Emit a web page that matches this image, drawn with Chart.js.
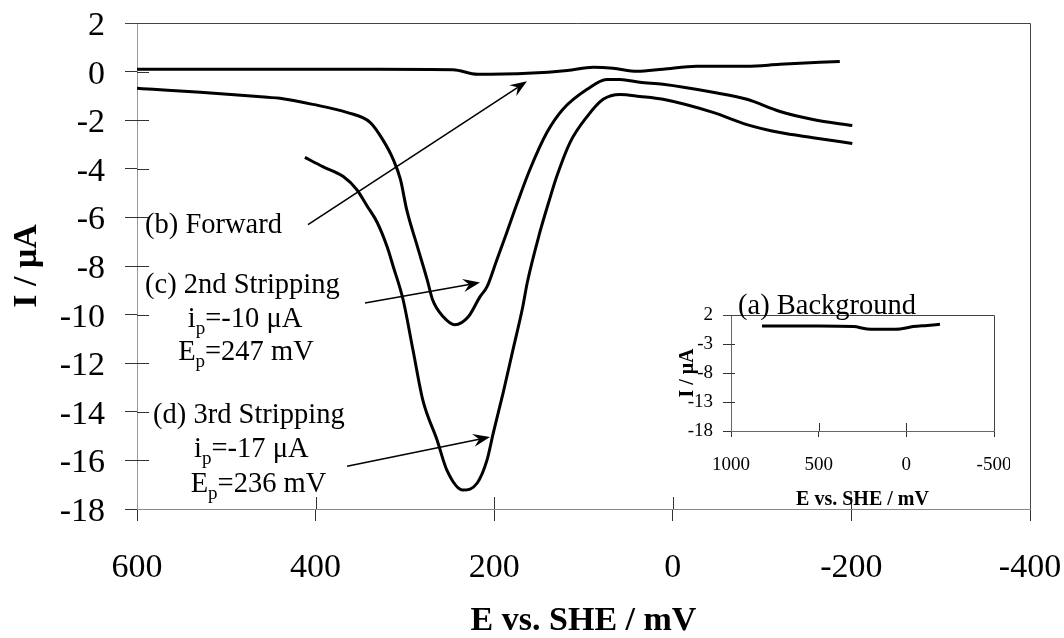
<!DOCTYPE html>
<html><head><meta charset="utf-8">
<script src="https://cdn.jsdelivr.net/npm/chart.js@4.4.1/dist/chart.umd.min.js"></script>
<style>
html,body{margin:0;padding:0;background:#fff;}
#wrap{position:relative;width:1064px;height:638px;overflow:hidden;}
#main{position:absolute;left:0;top:0;}
#inset{position:absolute;left:670px;top:290px;}
</style></head><body>
<div id="wrap"><canvas id="main" width="1064" height="638"></canvas><canvas id="inset" width="340" height="220"></canvas></div>
<script>
// ---- tick labels ----
const xTicksMain = [600, 400, 200, 0, -200, -400];
const yTicksMain = [2, 0, -2, -4, -6, -8, -10, -12, -14, -16, -18];
const xTicksInset = [1000, 500, 0, -500];
const yTicksInset = [2, -3, -8, -13, -18];

// ---- (b) forward scan ----
const forwardE = [600, 500, 417, 330, 246, 219, 190, 163, 118, 89, 67, 40, 11, -27, -83, -120, -187];
const forwardI = [0.10, 0.10, 0.10, 0.10, 0.08, -0.11, -0.10, -0.07, 0.05, 0.18, 0.14, 0.01, 0.10, 0.22, 0.22, 0.30, 0.42];

// ---- (c) 2nd stripping ----
const strip2E = [600, 582, 529, 454, 440, 403, 365, 339, 325, 313, 305, 298, 286, 275, 269, 257, 244, 229, 216, 208, 197, 186, 174, 160, 141, 123, 96, 74, 59, 37, 11, -45, -83, -120, -157, -201];
const strip2I = [-0.69, -0.73, -0.85, -1.06, -1.10, -1.35, -1.68, -2.09, -2.79, -3.62, -4.44, -5.68, -7.20, -8.57, -9.39, -10.09, -10.42, -10.09, -9.27, -8.85, -7.74, -6.63, -5.39, -4.03, -2.51, -1.55, -0.73, -0.32, -0.32, -0.44, -0.52, -0.85, -1.14, -1.64, -1.97, -2.22];

// ---- (d) 3rd stripping ----
const strip3E = [412, 392, 369, 354, 342, 331, 320, 313, 302, 291, 280, 264, 253, 235, 219, 208, 201, 190, 179, 168, 163, 149, 138, 130, 115, 96, 78, 59, 37, 11, -45, -83, -120, -157, -201];
const strip3I = [-3.53, -3.91, -4.32, -4.85, -5.55, -6.21, -7.20, -8.03, -9.39, -11.45, -13.51, -15.16, -16.40, -17.22, -16.93, -15.98, -14.87, -13.22, -11.45, -9.68, -8.69, -6.63, -5.26, -4.32, -2.91, -1.85, -1.14, -0.94, -1.02, -1.14, -1.68, -2.18, -2.51, -2.72, -2.96];

// ---- (a) background (inset) ----
const bgE = [823, 650, 500, 300, 224, 100, 36, -38, -120, -192];
const bgI = [0.1, 0.1, 0.1, 0.0, -0.4, -0.45, -0.4, 0.0, 0.2, 0.4];

const SERIF = '"Liberation Serif", "Times New Roman", serif';

function pts(xs, ys){ return xs.map((x,i)=>({x:x, y:ys[i]})); }

// annotation texts (data coordinates)
const notes = [
  {x: 591, y: -6.63, align: 'left',   parts: [['(b) Forward']]},
  {x: 591, y: -9.10, align: 'left',   parts: [['(c) 2nd Stripping']]},
  {x: 479, y: -10.50, align: 'center', parts: [['i'], ['p', 1], ['=-10 \u03BCA']]},
  {x: 478, y: -11.86, align: 'center', parts: [['E'], ['p', 1], ['=247 mV']]},
  {x: 582, y: -14.46, align: 'left',   parts: [['(d) 3rd Stripping']]},
  {x: 472, y: -15.86, align: 'center', parts: [['i'], ['p', 1], ['=-17 \u03BCA']]},
  {x: 464, y: -17.31, align: 'center', parts: [['E'], ['p', 1], ['=236 mV']]}
];
const arrows = [
  {from: [408.5, -6.30], to: [163.3, -0.40]},
  {from: [344.7, -9.52], to: [215.9, -8.68]},
  {from: [364.8, -16.24], to: [204.7, -15.04]}
];

function drawArrow(ctx, x1, y1, x2, y2){
  ctx.save();
  ctx.strokeStyle = '#000'; ctx.fillStyle = '#000'; ctx.lineWidth = 1.6;
  const a = Math.atan2(y2 - y1, x2 - x1);
  const L = 17, W = 6.5, N = 11;
  const bx = x2 - Math.cos(a) * N, by = y2 - Math.sin(a) * N;
  ctx.beginPath(); ctx.moveTo(x1, y1); ctx.lineTo(bx, by); ctx.stroke();
  ctx.beginPath();
  ctx.moveTo(x2, y2);
  ctx.lineTo(x2 - Math.cos(a) * L - Math.sin(a) * W, y2 - Math.sin(a) * L + Math.cos(a) * W);
  ctx.lineTo(bx, by);
  ctx.lineTo(x2 - Math.cos(a) * L + Math.sin(a) * W, y2 - Math.sin(a) * L - Math.cos(a) * W);
  ctx.closePath(); ctx.fill();
  ctx.restore();
}

function drawParts(ctx, parts, x, y, align, size){
  const mainF = size + 'px ' + SERIF, subF = Math.round(size * 0.68) + 'px ' + SERIF;
  let w = 0;
  parts.forEach(p => { ctx.font = p[1] ? subF : mainF; w += ctx.measureText(p[0]).width; });
  let cx = align === 'center' ? x - w / 2 : x;
  ctx.textAlign = 'left'; ctx.textBaseline = 'alphabetic'; ctx.fillStyle = '#000';
  parts.forEach(p => {
    ctx.font = p[1] ? subF : mainF;
    ctx.fillText(p[0], cx, y + (p[1] ? 7 : 0));
    cx += ctx.measureText(p[0]).width;
  });
}

function tickDecor(chart, inY, inX, frameColor){
  const ctx = chart.ctx, a = chart.chartArea, xs = chart.scales.x, ys = chart.scales.y;
  ctx.save();
  ctx.strokeStyle = '#333'; ctx.lineWidth = 1;
  ys.ticks.forEach(t => {
    const p = Math.round(ys.getPixelForValue(t.value)) + 0.5;
    if (Math.abs(p - a.top) < 2 || Math.abs(p - a.bottom) < 2) return;
    ctx.beginPath(); ctx.moveTo(a.left, p); ctx.lineTo(a.left + inY, p); ctx.stroke();
  });
  xs.ticks.forEach(t => {
    const p = Math.round(xs.getPixelForValue(t.value)) + 0.5;
    if (Math.abs(p - a.left) < 2 || Math.abs(p - a.right) < 2) return;
    ctx.beginPath(); ctx.moveTo(p, a.bottom); ctx.lineTo(p, a.bottom - inX); ctx.stroke();
  });
  // frame: top & right
  ctx.strokeStyle = frameColor;
  const top = Math.round(a.top) + 0.5, right = Math.round(a.right) + 0.5;
  ctx.beginPath(); ctx.moveTo(a.left - (ys.options.grid.tickLength || 0), top); ctx.lineTo(right, top); ctx.lineTo(right, a.bottom); ctx.stroke();
  ctx.restore();
}

function noPad(s){ s.paddingLeft = 0; s.paddingRight = 0; s.paddingTop = 0; s.paddingBottom = 0; }

const mainDecor = {
  id: 'mainDecor',
  beforeDatasetsDraw(chart){ tickDecor(chart, 12, 12, '#444'); },
  afterDatasetsDraw(chart){
    const ctx = chart.ctx, xs = chart.scales.x, ys = chart.scales.y;
    notes.forEach(n => drawParts(ctx, n.parts, xs.getPixelForValue(n.x), ys.getPixelForValue(n.y), n.align, 28.5));
    arrows.forEach(ar => drawArrow(ctx, xs.getPixelForValue(ar.from[0]), ys.getPixelForValue(ar.from[1]),
                                        xs.getPixelForValue(ar.to[0]), ys.getPixelForValue(ar.to[1])));
  }
};

const lineDs = (label, data) => ({label, data, showLine: true, borderColor: '#000', backgroundColor: '#000',
  borderWidth: 3, pointRadius: 0, cubicInterpolationMode: 'monotone', fill: false});

new Chart(document.getElementById('main'), {
  type: 'scatter',
  data: {datasets: [
    lineDs('(b) Forward', pts(forwardE, forwardI)),
    lineDs('(c) 2nd Stripping', pts(strip2E, strip2I)),
    lineDs('(d) 3rd Stripping', pts(strip3E, strip3I))
  ]},
  options: {
    responsive: false, animation: false, devicePixelRatio: 1,
    layout: {padding: {left: 0, right: 34, top: 23, bottom: 0}},
    plugins: {legend: {display: false}, tooltip: {enabled: false}},
    scales: {
      x: {type: 'linear', min: -400, max: 600, reverse: true,
        afterBuildTicks: s => { s.ticks = xTicksMain.map(v => ({value: v})); },
        ticks: {font: {family: SERIF, size: 34}, color: '#000', padding: 27, maxRotation: 0, autoSkip: false, callback: v => String(v)},
        grid: {drawOnChartArea: false, drawTicks: true, tickLength: 12, tickColor: '#333'},
        border: {display: true, color: '#888', width: 1},
        title: {display: true, text: 'E vs. SHE / mV', font: {family: SERIF, size: 34, weight: 'bold', lineHeight: 1.0}, color: '#000', padding: 0},
        afterFit: s => { s.height = 129; noPad(s); }
      },
      y: {type: 'linear', min: -18, max: 2,
        afterBuildTicks: s => { s.ticks = yTicksMain.map(v => ({value: v})); },
        ticks: {font: {family: SERIF, size: 34}, color: '#000', padding: 20, labelOffset: 3, autoSkip: false, callback: v => String(v)},
        grid: {drawOnChartArea: false, drawTicks: true, tickLength: 12, tickColor: '#333'},
        border: {display: true, color: '#999', width: 1},
        title: {display: true, text: 'I / \u03BCA', font: {family: SERIF, size: 34, weight: 'bold'}, color: '#000', padding: {top: 7, bottom: 0}},
        afterFit: s => { s.width = 137; noPad(s); }
      }
    }
  },
  plugins: [mainDecor]
});

const insetDecor = {
  id: 'insetDecor',
  beforeDatasetsDraw(chart){ tickDecor(chart, 4, 8, '#444'); },
  afterDatasetsDraw(chart){
    const ctx = chart.ctx, a = chart.chartArea;
    ctx.save();
    ctx.font = '28.5px ' + SERIF; ctx.fillStyle = '#000'; ctx.textAlign = 'left'; ctx.textBaseline = 'alphabetic';
    ctx.fillText('(a) Background', a.left + 7, a.top - 1);
    ctx.restore();
  }
};

new Chart(document.getElementById('inset'), {
  type: 'scatter',
  data: {datasets: [lineDs('(a) Background', pts(bgE, bgI))]},
  options: {
    responsive: false, animation: false, devicePixelRatio: 1,
    layout: {padding: {left: 0, right: 16, top: 25, bottom: 0}},
    plugins: {legend: {display: false}, tooltip: {enabled: false}},
    scales: {
      x: {type: 'linear', min: -500, max: 1000, reverse: true,
        afterBuildTicks: s => { s.ticks = xTicksInset.map(v => ({value: v})); },
        ticks: {font: {family: SERIF, size: 19}, color: '#000', padding: 17, maxRotation: 0, autoSkip: false, callback: v => String(v)},
        grid: {drawOnChartArea: false, drawTicks: true, tickLength: 6, tickColor: '#333'},
        border: {display: true, color: '#666', width: 1},
        title: {display: true, text: 'E vs. SHE / mV', font: {family: SERIF, size: 20, weight: 'bold', lineHeight: 1.0}, color: '#000', padding: 0},
        afterFit: s => { s.height = 79; noPad(s); }
      },
      y: {type: 'linear', min: -18, max: 2,
        afterBuildTicks: s => { s.ticks = yTicksInset.map(v => ({value: v})); },
        ticks: {font: {family: SERIF, size: 19}, color: '#000', padding: 10, autoSkip: false, callback: v => String(v)},
        grid: {drawOnChartArea: false, drawTicks: true, tickLength: 8, tickColor: '#333'},
        border: {display: true, color: '#666', width: 1},
        title: {display: true, text: 'I / \u03BCA', font: {family: SERIF, size: 20, weight: 'bold'}, color: '#000', padding: {top: 6, bottom: 0}},
        afterFit: s => { s.width = 61; noPad(s); }
      }
    }
  },
  plugins: [insetDecor]
});
</script>
</body></html>
